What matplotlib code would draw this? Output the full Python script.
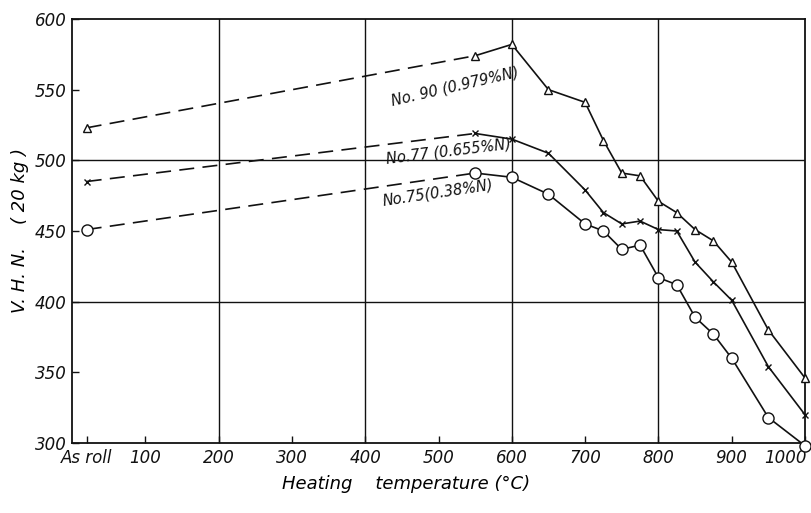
#!/usr/bin/env python3
"""Hardness (V.H.N., 20 kg) vs heating temperature for three N steels."""

import matplotlib.pyplot as plt
from matplotlib.transforms import ScaledTranslation

# "As roll" sits just right of the origin on the temperature axis
AS_ROLL_X = 20
HEAT_TEMPS = [550, 600, 650, 700, 725, 750, 775, 800, 825, 850, 875, 900, 950, 1000]

# first value = as rolled, then one per HEAT_TEMPS
NO90 = [523, 574, 582, 550, 541, 514, 491, 489, 471, 463, 451, 443, 428, 380, 346]
NO77 = [485, 519, 515, 505, 479, 463, 455, 457, 451, 450, 428, 414, 401, 354, 320]
NO75 = [451, 491, 488, 476, 455, 450, 437, 440, 417, 412, 389, 377, 360, 318, 298]

SERIES_LABELS = ["No. 90 (0.979%N)", "No.77 (0.655%N)", "No.75(0.38%N)"]

X_TICKS = [AS_ROLL_X, 100, 200, 300, 400, 500, 600, 700, 800, 900, 1000]
X_TICK_LABELS = ["As roll", "100", "200", "300", "400", "500", "600", "700", "800", "900", "1000"]
Y_TICKS = [300, 350, 400, 450, 500, 550, 600]

plt.rcParams.update(
    {
        "font.family": "DejaVu Sans",
        "font.style": "italic",
        "font.size": 11,
    }
)

INK = "#111111"

fig = plt.figure(figsize=(8.11, 5.13), dpi=100, facecolor="white")
ax = fig.add_axes([0.0888, 0.1365, 0.9038, 0.8265])

series = [
    (NO90, dict(marker="^", markersize=5.5)),
    (NO77, dict(marker="x", markersize=4, markeredgewidth=1.0)),
    (NO75, dict(marker="o", markersize=8)),
]

for vals, mk in series:
    # dashed link from as-rolled to the first heated state
    ax.plot(
        [AS_ROLL_X, HEAT_TEMPS[0]],
        [vals[0], vals[1]],
        color=INK,
        linewidth=1.2,
        dashes=(9, 5),
        zorder=2,
    )
    ax.plot(
        [AS_ROLL_X],
        [vals[0]],
        linestyle="none",
        color=INK,
        markerfacecolor="white",
        zorder=3,
        clip_on=False,
        **mk,
    )
    ax.plot(
        HEAT_TEMPS,
        vals[1:],
        color=INK,
        linewidth=1.2,
        markerfacecolor="white",
        zorder=3,
        clip_on=False,
        **mk,
    )

# curve labels, written along the dashed lines
ax.text(436, 542, SERIES_LABELS[0], rotation=13, fontsize=10.5, color=INK,
        ha="left", va="center", rotation_mode="anchor")
ax.text(429, 501, SERIES_LABELS[1], rotation=7, fontsize=10.5, color=INK,
        ha="left", va="center", rotation_mode="anchor")
ax.text(424, 471, SERIES_LABELS[2], rotation=8.5, fontsize=10.5, color=INK,
        ha="left", va="center", rotation_mode="anchor")

ax.set_xlim(0, 1000)
ax.set_ylim(300, 600)
ax.set_xticks(X_TICKS)
ax.set_xticklabels(X_TICK_LABELS)
ax.set_yticks(Y_TICKS)
ax.tick_params(direction="in", length=5, width=1.0, colors=INK, labelsize=12, pad=4)

# last label hugs the right edge, as in the original scan
last = ax.get_xticklabels()[-1]
last.set_horizontalalignment("right")
last.set_transform(last.get_transform() + ScaledTranslation(1.5 / 72, 0, fig.dpi_scale_trans))

for x in (200, 400, 600, 800):
    ax.axvline(x, color=INK, linewidth=1.0, zorder=1)
for y in (400, 500):
    ax.axhline(y, color=INK, linewidth=1.0, zorder=1)

for spine in ax.spines.values():
    spine.set_linewidth(1.3)
    spine.set_color(INK)

ax.set_xlabel("Heating    temperature (°C)", fontsize=13, labelpad=6, x=0.456)
ax.set_ylabel("V. H. N.    ( 20 kg )", fontsize=13, labelpad=4)

fig.savefig("out.png", dpi=100, facecolor="white")
